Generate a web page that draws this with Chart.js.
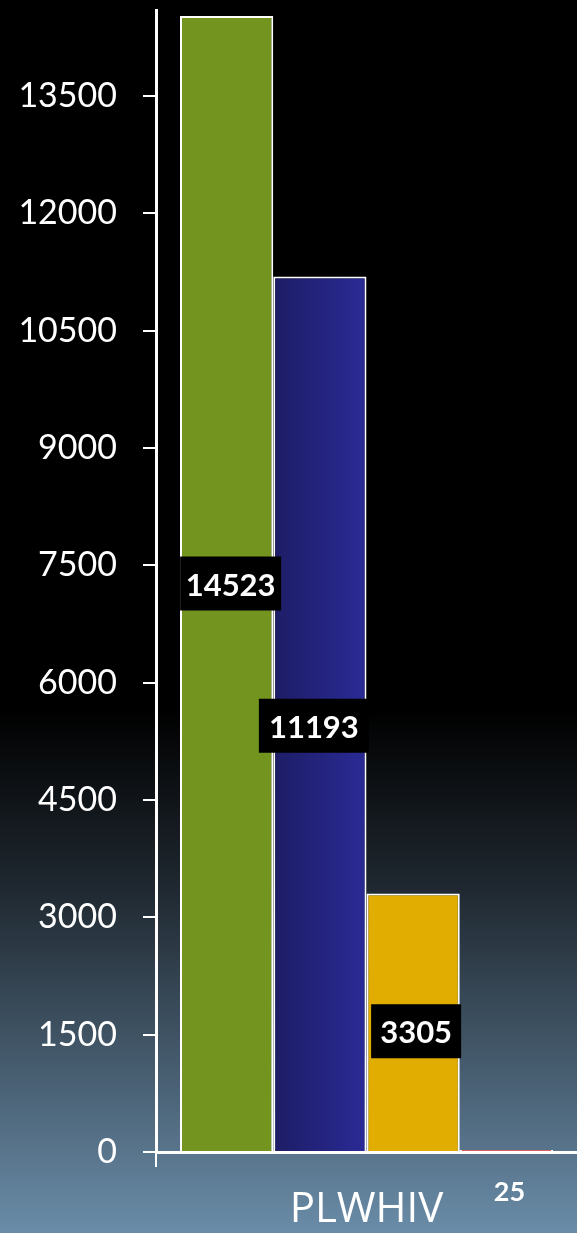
<!DOCTYPE html>
<html>
<head>
<meta charset="utf-8">
<script src="https://cdn.jsdelivr.net/npm/chart.js@4.4.0/dist/chart.umd.min.js"></script>
<style>
  html, body { margin: 0; padding: 0; background: #000; }
  #wrap { width: 577px; height: 1233px; position: relative; }
</style>
</head>
<body>
<div id="wrap"><canvas id="c" width="577" height="1233"></canvas></div>
<script>
const categories = ["PLWHIV"];
const seriesNames = ["Series A", "Series B", "Series C", "Series D"];
const seriesValues = [[14523], [11193], [3305], [25]];
const tickValues = [0, 1500, 3000, 4500, 6000, 7500, 9000, 10500, 12000, 13500];
const yMax = 14600;

const fillColors = ["#739520", null, "#e0ad00", "#ff0000"];
const borderColors = ["#ffffff", "#ffffff", "#ffffff", "#ffffff"];
// label placement tweaks (pixel offsets, box size)
const labelStyle = [
  { dx: 4, dy: 0, box: true, w: 101 },
  { dx: -6, dy: 12, box: true, w: 110 },
  { dx: 3, dy: 9, box: true, w: 90 },
  { dx: 3, dy: 0, box: false, below: true }
];

const CAT_PCT = 0.886;

function blueGradient(ctx) {
  const chart = ctx.chart;
  const xs = chart.scales.x;
  if (!chart.chartArea || !xs) return "#25258a";
  const center = xs.getPixelForValue(0);
  const catW = chart.chartArea.right - chart.chartArea.left;
  const groupW = catW * CAT_PCT;
  const barW = groupW / 4;
  const left = center - groupW / 2 + barW;
  const g = chart.ctx.createLinearGradient(left, 0, left + barW, 0);
  g.addColorStop(0, "#1d1d66");
  g.addColorStop(1, "#2a2a96");
  return g;
}

const bgPlugin = {
  id: "bg",
  beforeDraw(chart) {
    const c = chart.ctx;
    const h = chart.height;
    const g = c.createLinearGradient(0, 0, 0, h);
    g.addColorStop(0, "#000000");
    g.addColorStop(0.575, "#000000");
    g.addColorStop(0.72, "#1f2830");
    g.addColorStop(1, "#6a8ca8");
    c.save();
    c.fillStyle = g;
    c.fillRect(0, 0, chart.width, h);
    c.restore();
  }
};

const labelPlugin = {
  id: "valLabels",
  afterDatasetsDraw(chart) {
    const c = chart.ctx;
    const xAxisY = chart.scales.y.getPixelForValue(0);
    chart.data.datasets.forEach((ds, i) => {
      const meta = chart.getDatasetMeta(i);
      const el = meta.data[0];
      const st = labelStyle[i];
      const text = String(ds.data[0]);
      c.save();
      c.font = "bold 31px 'Lato'";
      c.textAlign = "center";
      c.textBaseline = "middle";
      const x = el.x + st.dx;
      let y;
      if (st.below) {
        y = xAxisY + 38;
        c.font = "bold 27px 'Lato'";
      } else {
        y = (el.y + el.base) / 2 + st.dy;
      }
      if (st.box) {
        c.fillStyle = "#000000";
        c.fillRect(x - st.w / 2, y - 27, st.w, 54);
      }
      c.fillStyle = "#ffffff";
      c.fillText(text, x, y + 2);
      c.restore();
    });
  }
};

const datasets = seriesValues.map((vals, i) => ({
  label: seriesNames[i],
  data: vals,
  backgroundColor: i === 1 ? blueGradient : fillColors[i],
  borderColor: borderColors[i],
  borderWidth: 2,
  barPercentage: 1,
  categoryPercentage: CAT_PCT
}));

new Chart(document.getElementById("c"), {
  type: "bar",
  data: { labels: categories, datasets },
  plugins: [bgPlugin, labelPlugin],
  options: {
    responsive: false,
    animation: false,
    devicePixelRatio: 1,
    layout: { padding: { top: 10, right: 0, left: 0, bottom: 0 } },
    plugins: { legend: { display: false }, tooltip: { enabled: false } },
    scales: {
      x: {
        offset: true,
        border: { display: true, color: "#ffffff", width: 3 },
        grid: {
          display: true, drawOnChartArea: false, lineWidth: 2, tickLength: 15, offset: true,
          color: "#ffffff",
          tickColor: (ctx) => ctx.index === 0 ? "#ffffff" : "rgba(0,0,0,0)"
        },
        ticks: { color: "#ffffff", font: { family: "'Open Sans'", size: 42 }, padding: 18 },
        afterFit(s) { s.height = 81; s.paddingLeft = 0; s.paddingRight = 0; }
      },
      y: {
        min: 0,
        max: yMax,
        border: { display: true, color: "#ffffff", width: 3 },
        grid: { display: true, drawOnChartArea: false, color: "#ffffff", lineWidth: 2, tickLength: 13 },
        afterBuildTicks(s) { s.ticks = tickValues.map(v => ({ value: v })); },
        ticks: { color: "#ffffff", font: { family: "'Lato'", size: 34 }, padding: 26, callback: (v) => String(v) },
        afterFit(s) { s.width = 156; s.paddingTop = 0; s.paddingBottom = 0; }
      }
    }
  }
});
</script>
</body>
</html>
